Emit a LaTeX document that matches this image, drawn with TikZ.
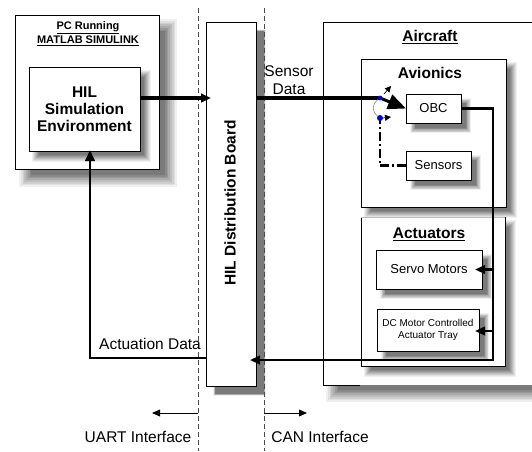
\documentclass[tikz,border=0pt]{standalone}
\usepackage{fontspec}
\setmainfont{Liberation Sans}
\usetikzlibrary{arrows.meta,calc}

% soft shadow built from nested grey rectangles
% #1 node, #2 offset, #3 blur radius
\newcommand{\softshadow}[3]{%
  \foreach \f/\g in {1/6,0.75/12,0.5/19,0.25/26,0/33,-0.25/40,-0.5/46,-0.75/52}{%
    \fill[black!\g]
      ($(#1.north west)+({#2-\f*#3},{#2-\f*#3})$) rectangle
      ($(#1.south east)+({#2+\f*#3},{#2+\f*#3})$);
  }}
% white box drawn over the area of a frame node
\newcommand{\boxover}[1]{\draw[line width=1pt, fill=white] (#1.north west) rectangle (#1.south east);}

\tikzset{
  frame/.style={inner sep=0pt, outer sep=0pt},
  big/.style={font=\fontsize{15.5}{17.5}\selectfont, inner sep=0pt, align=center},
  bigb/.style={font=\bfseries\fontsize{15.5}{17.5}\selectfont, inner sep=0pt, align=center},
  small/.style={font=\fontsize{13}{15}\selectfont, inner sep=0pt, align=center},
  tiny/.style={font=\fontsize{10}{12.5}\selectfont, inner sep=0pt, align=center},
  hdr/.style={font=\bfseries\fontsize{11}{14}\selectfont, inner sep=0pt, align=center},
  tip/.style={-{Triangle[length=#1, width=0.85*#1]}},
  tip/.default=9pt,
  iface/.style={dash pattern=on 5pt off 3pt, line width=0.9pt, black!70},
}

\begin{document}
\begin{tikzpicture}[x=1pt, y=-1pt]
\useasboundingbox (0,0) rectangle (532,451);

% ---------- frames (geometry of every box) ----------
\node[frame, minimum width=144pt, minimum height=154pt] (pc) at (87,92) {};
\node[frame, minimum width=111pt, minimum height=84pt] (hil) at (84.5,109) {};
\node[frame, minimum width=50pt, minimum height=364pt] (board) at (231,204) {};
\node[frame, minimum width=222pt, minimum height=363pt] (air) at (434,203.5) {};
\node[frame, minimum width=145pt, minimum height=148pt] (avi) at (433.5,133) {};
\node[frame, minimum width=55pt, minimum height=29pt] (obc) at (433.5,108.5) {};
\node[frame, minimum width=65pt, minimum height=29pt] (sens) at (438.5,165.5) {};
\node[frame, minimum width=144pt, minimum height=149pt] (act) at (433,291.5) {};
\node[frame, minimum width=106pt, minimum height=39pt] (servo) at (429,269.5) {};
\node[frame, minimum width=102pt, minimum height=42pt] (dc) at (428,330) {};

% ---------- PC ----------
\softshadow{pc}{11}{7}
\boxover{pc}
\softshadow{hil}{7}{4}
\boxover{hil}

% ---------- distribution board ----------
\softshadow{board}{8.5}{1.2}
\boxover{board}

% ---------- aircraft ----------
\softshadow{air}{10}{7}
\fill[white] (air.north west) rectangle (air.south east);
\draw[line width=1pt] (air.south west) -- (air.north west) -- (air.north east);
\coordinate (airb) at (360,385);
\draw[line width=1pt] (air.south west) -- (airb);
\draw[gray, densely dotted, line width=0.8pt] (airb) -- (air.south east);

\softshadow{avi}{7}{4}
\boxover{avi}
\softshadow{obc}{7}{3}
\boxover{obc}
\softshadow{sens}{7}{3}
\boxover{sens}

\softshadow{act}{7}{4}
\fill[white] (act.north west) rectangle (act.south east);
\draw[line width=1pt] (act.north west) -- (act.south west) -- (act.south east) -- (act.north east);
\draw[black!25, line width=0.8pt] (act.north west) -- (act.north east);
\softshadow{servo}{7}{3}
\boxover{servo}
\softshadow{dc}{7}{3}
\boxover{dc}

% ---------- texts ----------
\node[hdr] (pctitle) at (88,34) {\underline{PC Running}\\\underline{MATLAB SIMULINK}};
\node[bigb, font=\bfseries\fontsize{15.5}{17}\selectfont] (hiltext) at (hil) {HIL\\Simulation\\Environment};
\node[bigb, rotate=90] (boardtext) at (230,203) {HIL Distribution Board};
\node[bigb] (airtitle) at (430,37) {\underline{Aircraft}};
\node[bigb] (avititle) at (430,73) {Avionics};
\node[small] (obctext) at (obc) {OBC};
\node[small] (senstext) at (sens) {Sensors};
\node[bigb] (acttitle) at (429,234) {\underline{Actuators}};
\node[small] (servotext) at (servo) {Servo Motors};
\node[tiny] (dctext) at (dc) {DC Motor Controlled\\Actuator Tray};

% ---------- interface boundaries ----------
\coordinate (u0) at (198,8);
\coordinate (u1) at (198,451);
\coordinate (c0) at (264,8);
\coordinate (c1) at (264,451);
\draw[iface] (u0) -- (u1);
\draw[iface] (c0) -- (c1);

% simulation output to the board
\coordinate (o1) at (140,98);
\draw[line width=3.2pt, tip=10pt] (hil.east |- o1) -- ([xshift=5pt]board.west |- o1);

% sensor data to the OBC
\coordinate (s1) at (380,98);
\coordinate (s2) at (380,118);
\draw[line width=4.2pt] (board.east |- s1) -- (s1);
\draw[line width=3pt, -{Triangle[length=18pt, width=15pt]}] (s1) -- (obc.west);
\node[big] (sdlabel) at (289,80) {Sensor\\Data};
\draw[line width=2.2pt, dash pattern=on 9pt off 3pt on 2pt off 3pt] (sens.west) -| (s2);
\draw[black!45, line width=0.6pt] (s1) .. controls (371,104) and (371,112) .. (s2);
\draw[line width=0.7pt, -{Triangle[length=6pt, width=6pt]}] (384,94) -- (391,86);
\draw[line width=0.7pt, -{Triangle[length=6pt, width=6pt]}] (383,118) -- (391,117);
\fill[blue!85!black] (s1) circle (2.4pt);
\fill[blue!85!black] (s2) circle (3pt);

% OBC commands to actuators and back to the board
\coordinate (r1) at (493,108.5);
\coordinate (r2) at (493,360);
\coordinate (j1) at (493,269.5);
\coordinate (j2) at (493,331);
\draw[line width=2.2pt, tip=10pt] (obc.east) -- (r1) -- (r2) -- ([xshift=-6pt]board.east |- r2);
\draw[line width=2.2pt, tip=10pt] (j1) -- ([xshift=-7pt]servo.east |- j1);
\draw[line width=2.2pt, tip=10pt] (j2) -- ([xshift=-4pt]dc.east |- j2);

% actuation data back to the simulation
\coordinate (a1) at (90,358);
\draw[line width=2.7pt, tip=11pt] (board.west |- a1) -- (a1) -- ([yshift=1pt]hil.south -| a1);
\node[big] (adlabel) at (150,344) {Actuation Data};

% interface legends
\coordinate (ua) at (152,413);
\coordinate (ca) at (307,413);
\draw[line width=0.9pt, tip=8pt] (u0 |- ua) -- (ua);
\draw[line width=0.9pt, tip=8pt] (c0 |- ca) -- (ca);
\node[big] (uart) at (138,437) {UART Interface};
\node[big] (can) at (320,437) {CAN Interface};
\end{tikzpicture}
\end{document}
